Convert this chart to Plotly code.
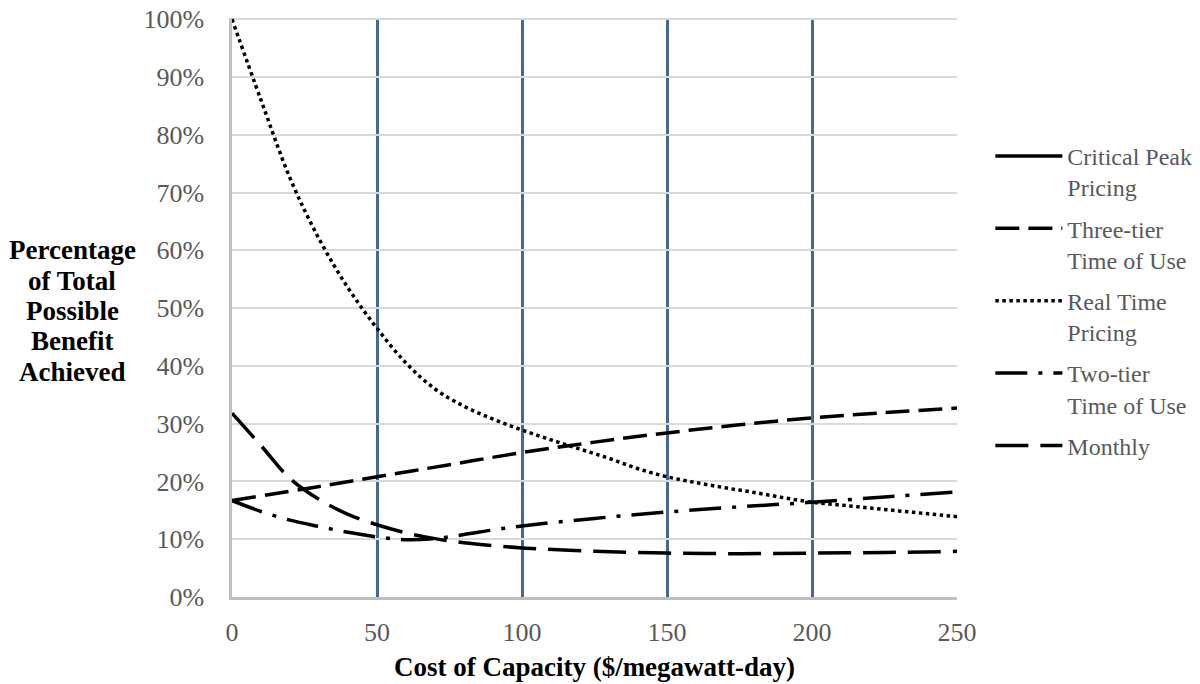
import plotly.graph_objects as go

# Cost of capacity ($/megawatt-day)
x_rtp = [0, 10, 20, 30, 40, 50, 60, 70, 80, 90, 100, 110, 120, 130, 140, 150,
         160, 170, 180, 190, 200, 210, 220, 230, 240, 250]
rtp = [1.00, 0.86, 0.725, 0.62, 0.535, 0.465, 0.405, 0.36, 0.33, 0.308, 0.289,
       0.272, 0.256, 0.240, 0.222, 0.208, 0.198, 0.189, 0.181, 0.172, 0.164,
       0.159, 0.154, 0.149, 0.144, 0.139]

x_three = [0, 25, 50, 75, 100, 125, 150, 175, 200, 225, 250]
three_tier = [0.167, 0.187, 0.208, 0.229, 0.250, 0.268, 0.284, 0.298, 0.310,
              0.319, 0.327]

x_two = [0, 10, 20, 30, 40, 50, 60, 70, 80, 90, 100, 125, 150, 175, 200, 225, 250]
two_tier = [0.167, 0.148, 0.133, 0.122, 0.112, 0.104, 0.099, 0.101, 0.108,
            0.116, 0.123, 0.136, 0.147, 0.156, 0.164, 0.173, 0.182]

x_monthly = [0, 10, 20, 30, 40, 50, 60, 70, 80, 90, 100, 125, 150, 175, 200, 225, 250]
monthly = [0.318, 0.262, 0.205, 0.169, 0.143, 0.125, 0.111, 0.101, 0.094,
           0.089, 0.085, 0.079, 0.076, 0.075, 0.076, 0.077, 0.079]

# Critical Peak Pricing appears only in the legend (no visible curve)
x_cpp = [None]
cpp = [None]

x_ticks = [0, 50, 100, 150, 200, 250]
y_ticks = [0, 0.1, 0.2, 0.3, 0.4, 0.5, 0.6, 0.7, 0.8, 0.9, 1.0]
y_title_lines = ["Percentage", "of Total", "Possible", "Benefit", "Achieved"]

FONT = "Liberation Serif, Times New Roman, serif"
GRAY = "#595959"

fig = go.Figure()

series = [
    ("Critical Peak<br>Pricing", x_cpp, cpp, "solid"),
    ("Three-tier<br>Time of Use", x_three, three_tier, "24px,9px"),
    ("Real Time<br>Pricing", x_rtp, rtp, "3.5px,3.5px"),
    ("Two-tier<br>Time of Use", x_two, two_tier, "32px,11px,4px,11px"),
    ("Monthly", x_monthly, monthly, "33px,12px"),
]
for i, (name, xs, ys, dash) in enumerate(series):
    fig.add_trace(go.Scatter(
        x=xs, y=ys, name=name, mode="lines", legendgroup=f"g{i}",
        line=dict(color="black", width=3.5, dash=dash, shape="spline"),
        hoverinfo="skip", cliponaxis=False,
    ))

L, R, T, B = 232, 243, 18, 87
fig.update_layout(
    width=1200, height=684,
    margin=dict(l=L, r=R, t=T, b=B, autoexpand=False),
    plot_bgcolor="white", paper_bgcolor="white",
    font=dict(family=FONT, size=26, color=GRAY),
    showlegend=True,
    legend=dict(
        x=1.046, y=0.80, xanchor="left", yanchor="top",
        font=dict(family=FONT, size=24, color=GRAY),
        itemwidth=67, tracegroupgap=7, valign="top",
        bgcolor="rgba(0,0,0,0)",
    ),
    xaxis=dict(
        range=[0, 250], tickvals=x_ticks, ticktext=[str(v) for v in x_ticks],
        showgrid=True, gridcolor="#46698F", gridwidth=2.5,
        showline=True, linecolor="#BFBFBF", linewidth=2.5,
        zeroline=False, ticks="", ticklabelstandoff=10,
        ticklabeloverflow="allow", automargin=False,
        tickfont=dict(family=FONT, size=26, color=GRAY),
        title=dict(text="<b>Cost of Capacity ($/megawatt-day)</b>",
                   font=dict(family=FONT, size=27, color="black"), standoff=12),
    ),
    yaxis=dict(
        range=[0, 1.002], tickvals=y_ticks, tickformat=".0%",
        showgrid=True, gridcolor="#D9D9D9", gridwidth=2,
        showline=True, linecolor="#BFBFBF", linewidth=2.5,
        zeroline=False, ticks="", ticklabelstandoff=20,
        ticklabeloverflow="allow", automargin=False,
        tickfont=dict(family=FONT, size=26, color=GRAY),
    ),
)

plot_w = 1200 - L - R
plot_h = 684 - T - B
for k, line in enumerate(y_title_lines):
    py = 250 + k * 30.5  # desired screen centre of each title line
    fig.add_annotation(
        text=f"<b>{line}</b>",
        xref="paper", yref="paper",
        x=(72 - L) / plot_w, y=1 - (py - T) / plot_h,
        xanchor="center", yanchor="middle", showarrow=False,
        font=dict(family=FONT, size=27, color="black"),
    )

fig.write_html("out.html",
               config={"displayModeBar": False},
               post_script="document.body.style.margin='0';document.body.style.overflow='hidden';")
